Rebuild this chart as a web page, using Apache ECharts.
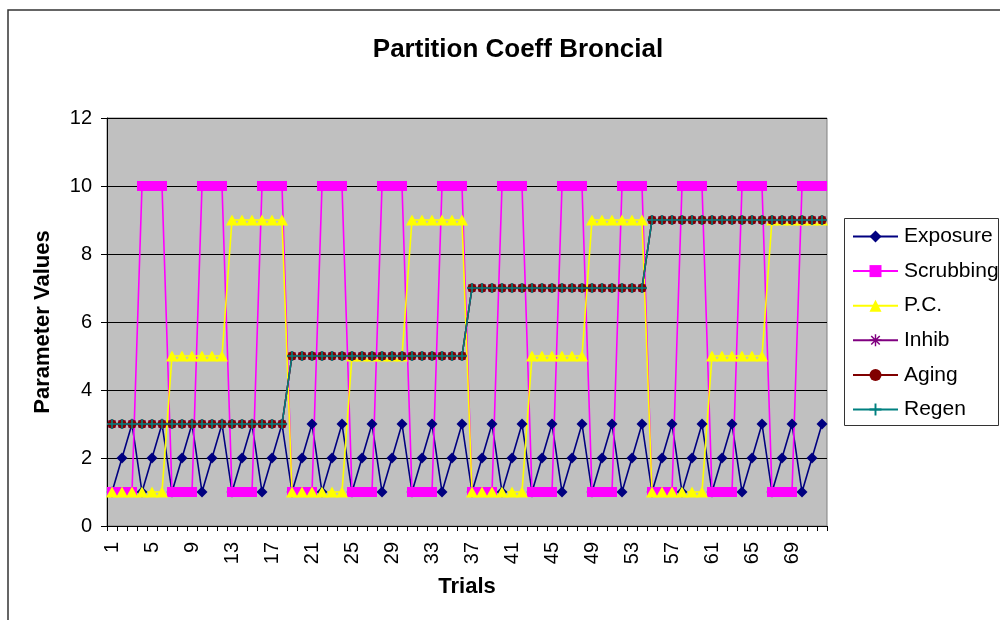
<!DOCTYPE html>
<html>
<head>
<meta charset="utf-8">
<script src="https://cdn.jsdelivr.net/npm/echarts@6/dist/echarts.min.js"></script>
<style>
html,body{margin:0;padding:0;background:#fff;}
#chart{width:1000px;height:620px;}
</style>
</head>
<body>
<div id="chart"></div>
<script>
var trials = ['1','2','3','4','5','6','7','8','9','10','11','12','13','14','15','16','17','18',
  '19','20','21','22','23','24','25','26','27','28','29','30','31','32','33','34','35','36',
  '37','38','39','40','41','42','43','44','45','46','47','48','49','50','51','52','53','54',
  '55','56','57','58','59','60','61','62','63','64','65','66','67','68','69','70','71','72'];

var exposure = [1,2,3,1,2,3,1,2,3,1,2,3,1,2,3,1,2,3,
  1,2,3,1,2,3,1,2,3,1,2,3,1,2,3,1,2,3,
  1,2,3,1,2,3,1,2,3,1,2,3,1,2,3,1,2,3,
  1,2,3,1,2,3,1,2,3,1,2,3,1,2,3,1,2,3];

var scrubbing = [1,1,1,10,10,10,1,1,1,10,10,10,1,1,1,10,10,10,
  1,1,1,10,10,10,1,1,1,10,10,10,1,1,1,10,10,10,
  1,1,1,10,10,10,1,1,1,10,10,10,1,1,1,10,10,10,
  1,1,1,10,10,10,1,1,1,10,10,10,1,1,1,10,10,10];

var pc = [1,1,1,1,1,1,5,5,5,5,5,5,9,9,9,9,9,9,
  1,1,1,1,1,1,5,5,5,5,5,5,9,9,9,9,9,9,
  1,1,1,1,1,1,5,5,5,5,5,5,9,9,9,9,9,9,
  1,1,1,1,1,1,5,5,5,5,5,5,9,9,9,9,9,9];

var inhib = [3,3,3,3,3,3,3,3,3,3,3,3,3,3,3,3,3,3,
  5,5,5,5,5,5,5,5,5,5,5,5,5,5,5,5,5,5,
  7,7,7,7,7,7,7,7,7,7,7,7,7,7,7,7,7,7,
  9,9,9,9,9,9,9,9,9,9,9,9,9,9,9,9,9,9];

var aging = [3,3,3,3,3,3,3,3,3,3,3,3,3,3,3,3,3,3,
  5,5,5,5,5,5,5,5,5,5,5,5,5,5,5,5,5,5,
  7,7,7,7,7,7,7,7,7,7,7,7,7,7,7,7,7,7,
  9,9,9,9,9,9,9,9,9,9,9,9,9,9,9,9,9,9];

var regen = [3,3,3,3,3,3,3,3,3,3,3,3,3,3,3,3,3,3,
  5,5,5,5,5,5,5,5,5,5,5,5,5,5,5,5,5,5,
  7,7,7,7,7,7,7,7,7,7,7,7,7,7,7,7,7,7,
  9,9,9,9,9,9,9,9,9,9,9,9,9,9,9,9,9,9];

var yTicks = [0, 2, 4, 6, 8, 10, 12];

var FONT = '"Liberation Sans", Arial, sans-serif';
var starPath = 'path://M4.4,0h1.2v10h-1.2z M0,4.4h10v1.2h-10z M1.0,1.9L1.9,1.0L9.0,8.1L8.1,9.0z M8.1,1.0L9.0,1.9L1.9,9.0L1.0,8.1z';
var plusPath = 'path://M4.2,0h1.6v10h-1.6z M0,4.2h10v1.6h-10z';

function mk(name, data, color, symbol, size) {
  return {
    name: name, type: 'line', data: data,
    symbol: symbol, symbolSize: size, showAllSymbol: true,
    lineStyle: {color: color, width: 1.6},
    itemStyle: {color: color, borderWidth: 0},
    emphasis: {disabled: true}
  };
}

var chart = echarts.init(document.getElementById('chart'), null, {renderer: 'canvas'});
chart.setOption({
  animation: false,
  backgroundColor: '#fff',
  title: {
    text: 'Partition Coeff Broncial',
    left: 513, top: 32, textAlign: 'center',
    textStyle: {fontFamily: FONT, fontWeight: 'bold', fontSize: 26, color: '#000'}
  },
  grid: {
    left: 107, right: 173, top: 118, bottom: 94,
    show: true, backgroundColor: '#C0C0C0', borderColor: '#808080', borderWidth: 1
  },
  legend: {
    orient: 'vertical', left: 852, top: 226,
    itemWidth: 45, itemHeight: 15, itemGap: 13.6, padding: 0,
    textStyle: {fontFamily: FONT, fontSize: 21, color: '#000', lineHeight: 21, padding: [0,0,0,1]},
    data: ['Exposure','Scrubbing','P.C.','Inhib','Aging','Regen']
  },
  xAxis: {
    type: 'category', data: trials, boundaryGap: true,
    name: 'Trials', nameLocation: 'middle', nameGap: 50,
    nameTextStyle: {fontFamily: FONT, fontWeight: 'bold', fontSize: 22, color: '#000'},
    axisLine: {lineStyle: {color: '#000', width: 1}},
    axisTick: {show: true, interval: 0, length: 5, lineStyle: {color: '#000'}},
    axisLabel: {interval: 3, rotate: 90, margin: 16, fontFamily: FONT, fontSize: 20, color: '#000'},
    splitLine: {show: false}
  },
  yAxis: {
    type: 'value', min: 0, max: 12, interval: 2,
    name: 'Parameter Values', nameLocation: 'middle', nameGap: 53,
    nameTextStyle: {fontFamily: FONT, fontWeight: 'bold', fontSize: 22, color: '#000'},
    axisLine: {show: true, lineStyle: {color: '#000', width: 1}},
    axisTick: {show: true, length: 6, lineStyle: {color: '#000'}},
    axisLabel: {margin: 15, fontFamily: FONT, fontSize: 20, color: '#000',
      formatter: function (v) { return yTicks.indexOf(v) >= 0 ? String(v) : ''; }},
    splitLine: {show: true, lineStyle: {color: '#000', width: 1}}
  },
  graphic: [
    {type: 'rect', shape: {x: 8, y: 10, width: 1010, height: 630},
      style: {fill: null, stroke: '#333', lineWidth: 1.5}, silent: true, z: -1},
    {type: 'rect', shape: {x: 844.5, y: 218.5, width: 154, height: 207},
      style: {fill: '#fff', stroke: '#333', lineWidth: 1}, silent: true, z: -1}
  ],
  series: [
    mk('Exposure', exposure, '#000080', 'diamond', 11),
    mk('Scrubbing', scrubbing, '#FF00FF', 'rect', 10),
    mk('P.C.', pc, '#FFFF00', 'triangle', [12, 11]),
    mk('Inhib', inhib, '#800080', starPath, 10),
    mk('Aging', aging, '#800000', 'circle', 9),
    mk('Regen', regen, '#008080', plusPath, 10)
  ]
});
</script>
</body>
</html>
